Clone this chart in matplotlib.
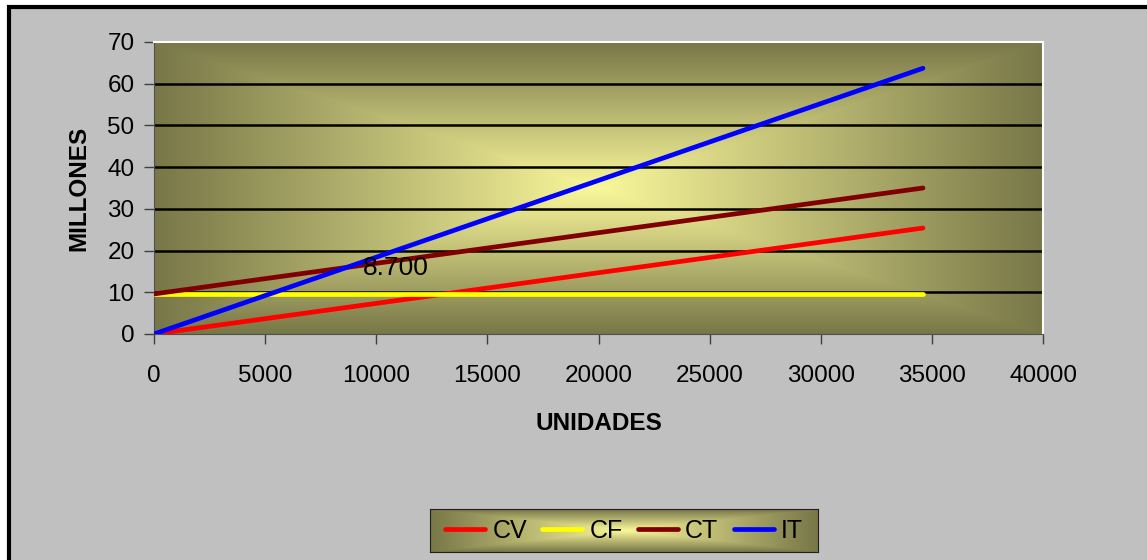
import numpy as np
from matplotlib import pyplot as plt
from matplotlib.patches import Rectangle
from matplotlib.lines import Line2D

plt.rcParams['font.family'] = ['Liberation Sans', 'DejaVu Sans']

# datos del punto de equilibrio (millones)
unidades = [0, 34600]
cv = [0.0, 25.4]
cf = [9.6, 9.6]
ct = [9.6, 35.0]
it = [0.0, 63.7]
equilibrio_x, equilibrio_y, equilibrio_txt = 9400, 15.8, "8.700"

series = ["CV", "CF", "CT", "IT"]
colores = ["#FF0000", "#FFFF00", "#800000", "#0000FF"]

edge = np.array([120, 119, 72]) / 255.
center = np.array([250, 248, 155]) / 255.


def gradiente(nx, ny):
    u = np.abs(np.linspace(-1, 1, nx))[None, :]
    v = np.abs(np.linspace(-1, 1, ny))[:, None]
    t = np.maximum(u, v)
    return center * (1 - t[..., None]) + edge * t[..., None]


fig = plt.figure(figsize=(11.47, 5.60), dpi=100, facecolor="white")
fig.patches.append(Rectangle((9 / 1147, -0.1), 1.2, 1.1 - 7 / 560,
                             transform=fig.transFigure, facecolor="#C0C0C0",
                             edgecolor="black", linewidth=3, zorder=-10))

ax = fig.add_axes([154 / 1147, 1 - 334 / 560, 889 / 1147, 292 / 560])
ax.imshow(gradiente(400, 200), extent=[0, 1, 0, 1], transform=ax.transAxes,
          aspect="auto", zorder=0)

for y in range(10, 70, 10):
    ax.axhline(y, color="black", lw=1.8, zorder=1)

for datos, c in zip([cv, cf, ct, it], colores):
    ax.plot(unidades, datos, color=c, lw=3.4, solid_capstyle="round", zorder=3)

ax.text(equilibrio_x, equilibrio_y, equilibrio_txt, fontsize=19, ha="left",
        va="center", zorder=4)

ax.set_xlim(0, 40000)
ax.set_ylim(0, 70)
ax.set_xticks(range(0, 40001, 5000))
ax.set_yticks(range(0, 71, 10))
ax.tick_params(labelsize=17.5, length=7, width=1, color="#404040")
ax.tick_params(axis="x", pad=15)
ax.tick_params(axis="y", pad=7)
for s in ["top", "right"]:
    ax.spines[s].set_color("white")
    ax.spines[s].set_linewidth(1.5)
for s in ["left", "bottom"]:
    ax.spines[s].set_color("#505050")
ax.set_xlabel("UNIDADES", fontsize=17.5, fontweight="bold", labelpad=18)
ax.set_ylabel("MILLONES", fontsize=17.5, fontweight="bold", labelpad=12)

# leyenda con fondo degradado
lax = fig.add_axes([430 / 1147, 1 - 552 / 560, 388 / 1147, 43 / 560])
lax.imshow(gradiente(300, 40), extent=[0, 1, 0, 1], aspect="auto")
lax.set_xticks([])
lax.set_yticks([])
for s in lax.spines.values():
    s.set_color("#202020")
handles = [Line2D([], [], color=c, lw=3.4, solid_capstyle="round") for c in colores]
lax.legend(handles, series, loc="center", ncol=4, frameon=False, fontsize=18,
           handlelength=1.6, handletextpad=0.3, columnspacing=0.6,
           borderaxespad=0, borderpad=0)

fig.savefig("out.png", dpi=100)
